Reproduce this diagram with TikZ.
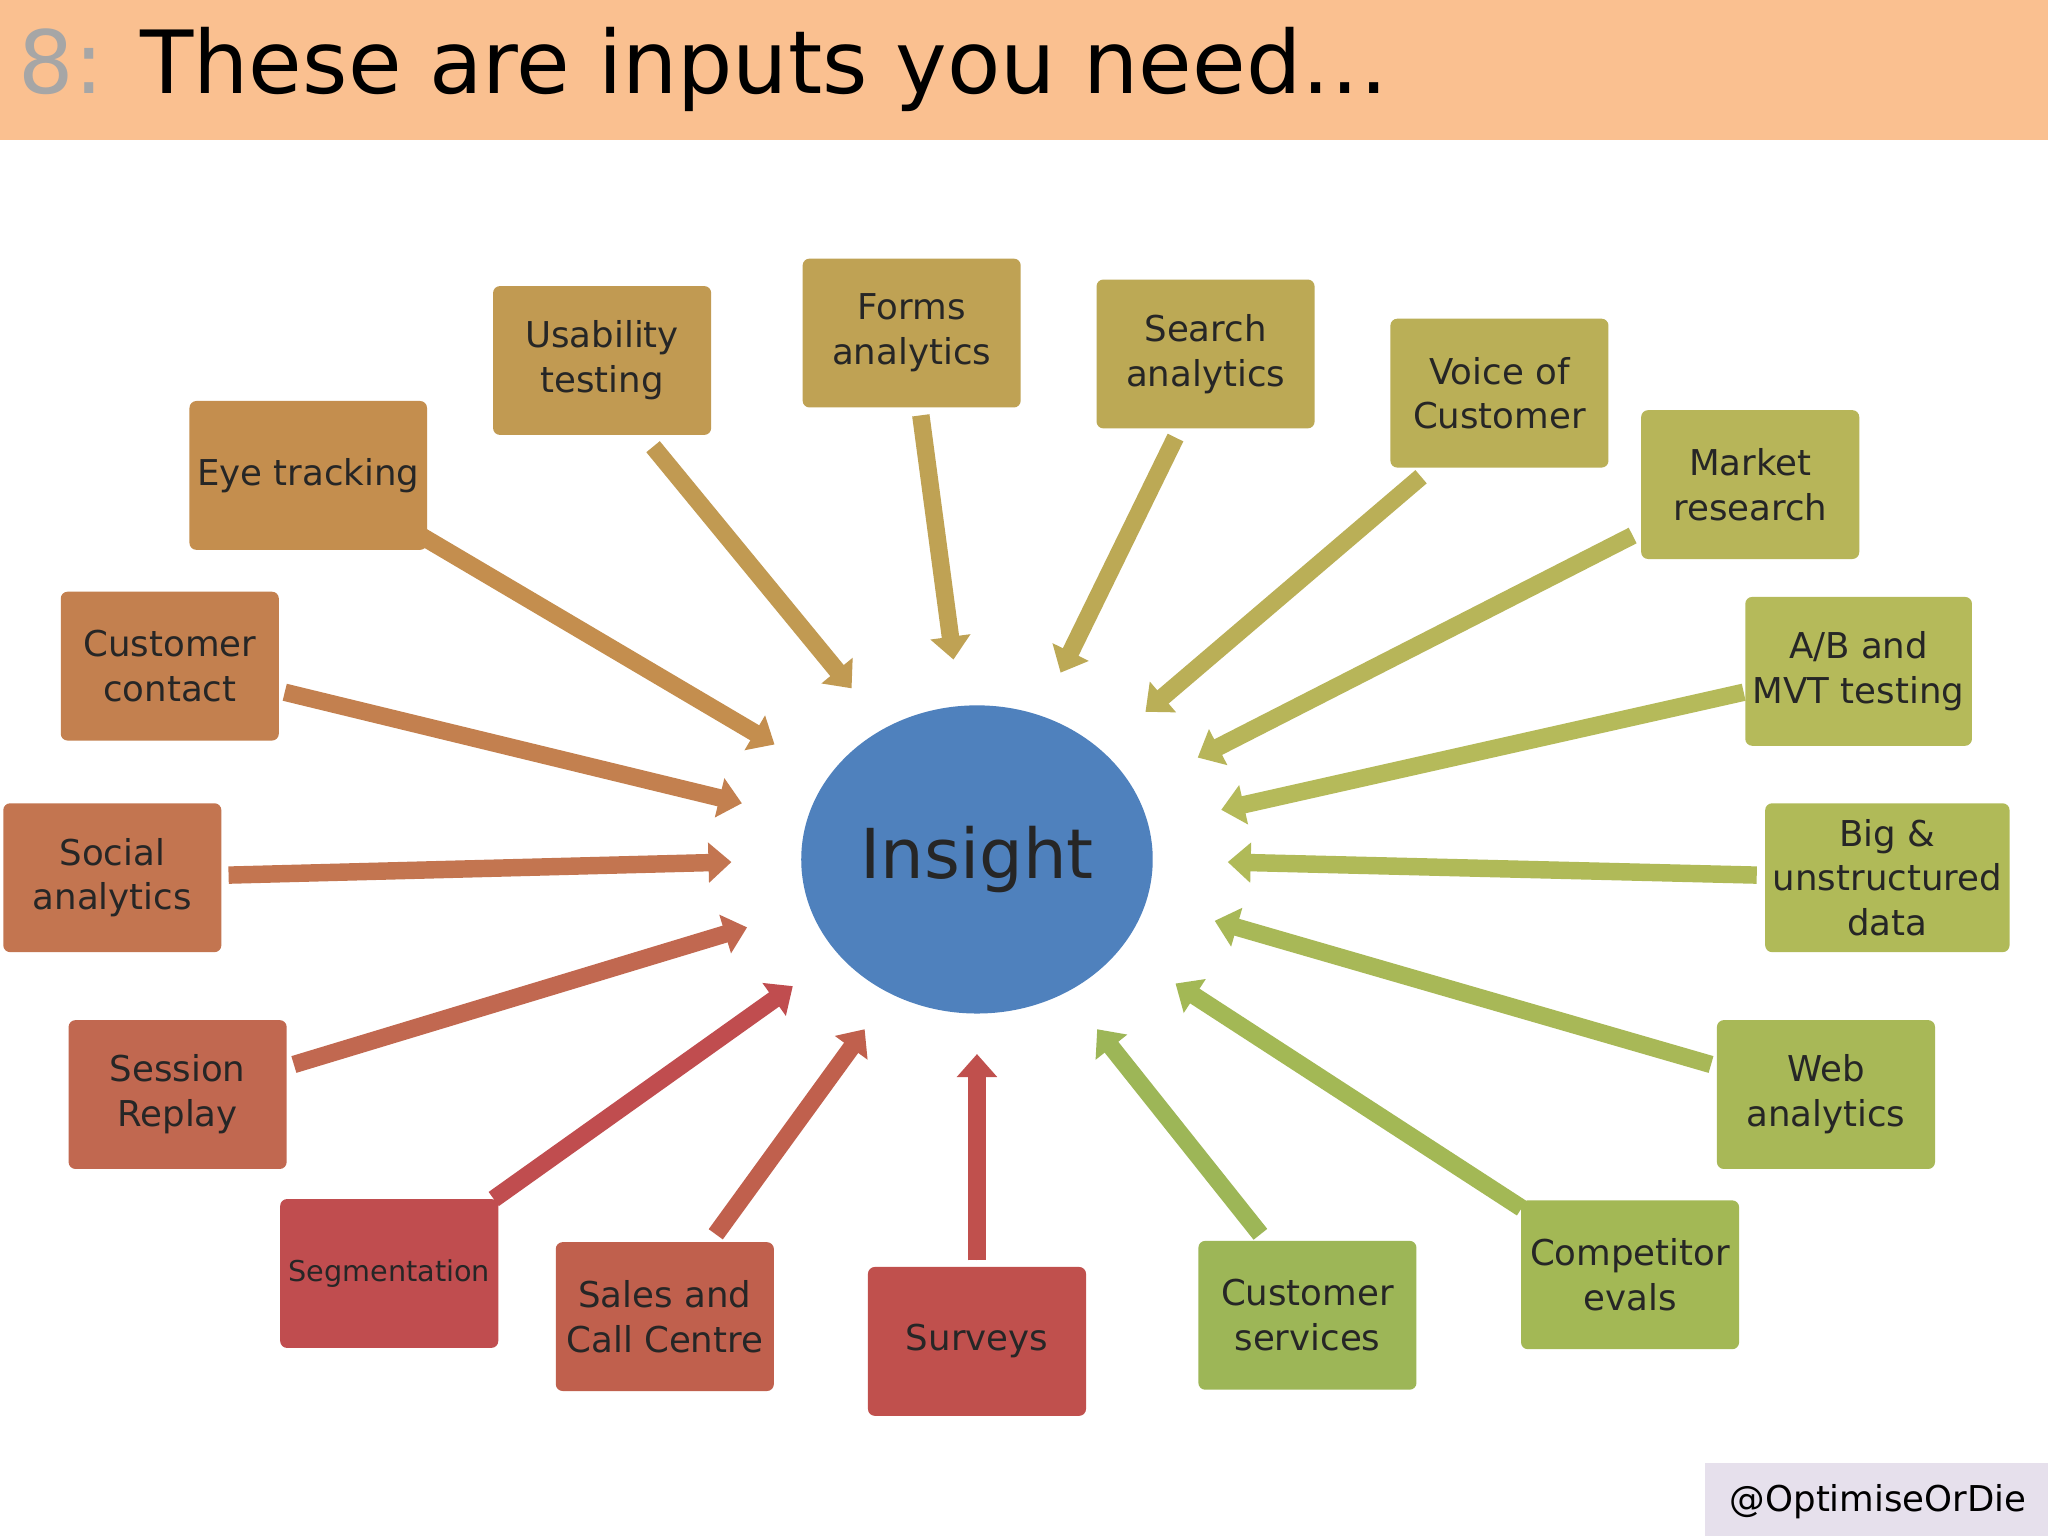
\documentclass[tikz,border=0pt]{standalone}
\usepackage{fontspec}
\setmainfont{DejaVu Sans}
\usetikzlibrary{arrows.meta,shapes.geometric}
\begin{document}
\begin{tikzpicture}[x=0.02cm,y=-0.02cm,
  box/.style={rounded corners=3pt,minimum width=3.34cm,minimum height=2.28cm,align=center,font=\fontsize{15.5}{19.5}\selectfont,text=black!85},
  arr/.style={line width=7.6pt,-{Triangle[width=17pt,length=10pt]}}]
\useasboundingbox (0,0) rectangle (1568,1176);
\fill[fill=white] (0,0) rectangle (1568,1176);
\fill[fill={rgb,255:red,250;green,192;blue,144}] (0,0) rectangle (1568,107);
\node[anchor=west,font=\fontsize{38}{44}\selectfont] (title) at (8,53) {\textcolor{black!35}{8:} These are inputs you need…};
\fill[fill={rgb,255:red,230;green,224;blue,236}] (1305,1120) rectangle (1568,1176);
\node[font=\fontsize{15.5}{18}\selectfont] (tag) at (1438,1150) {@OptimiseOrDie};
\node[ellipse,fill={rgb,255:red,79;green,129;blue,189},minimum width=5.04cm,minimum height=4.72cm,font=\fontsize{30}{34}\selectfont,text=black!85] (ins) at (748,658) {Insight};
\foreach \n/\x/\y/\r/\g/\b/\t/\ex/\ey/\sx/\sy in {
 eye/236/364/196/142/78/{Eye tracking}/593/570/322/410,
 usa/461/276/193/154/82/{Usability\\testing}/652/527/500/342,
 frm/698/255/191/162/84/{Forms\\analytics}/730/505/705/318,
 sea/923/271/188/169/85/{Search\\analytics}/812/515/900/335,
 voc/1148/301/186/175/87/{Voice of\\Customer}/877/545/1088/365,
 mkt/1340/371/183/181/89/{Market\\research}/917/580/1250/410,
 abt/1423/514/181/186/90/{A/B and\\MVT testing}/935/620/1335/530,
 big/1445/672/176/186/88/{Big \&\\unstructured\\data}/940/660/1345/670,
 web/1398/838/168/184/87/{Web\\analytics}/930/705/1310/815,
 cmp/1248/976/163/184/85/{Competitor\\evals}/900/753/1165/925,
 csv/1001/1007/157/182/87/{Customer\\services}/840/788/965/945,
 srv/748/1027/192/80/77/{Surveys}/748/807/748/965,
 sal/509/1008/192/96/77/{Sales and\\Call Centre}/662/788/548/945,
 seg/298/975/192/77/79/{\fontsize{12.5}{15}\selectfont Segmentation}/607/755/378/918,
 ses/136/838/193/104/80/{Session\\Replay}/572/710/225/815,
 soc/86/672/195/117/80/{Social\\analytics}/560/660/175/670,
 cct/130/510/195/128/79/{Customer\\contact}/568/615/218/530}{
 \definecolor{c\n}{RGB}{\r,\g,\b}
 \node[box,fill=c\n] (\n) at (\x,\y) {\t};
 \coordinate (s\n) at (\sx,\sy);
 \coordinate (e\n) at (\ex,\ey);
 \draw[arr,draw=c\n,fill=c\n] (s\n) -- (e\n);
}
\end{tikzpicture}
\end{document}
